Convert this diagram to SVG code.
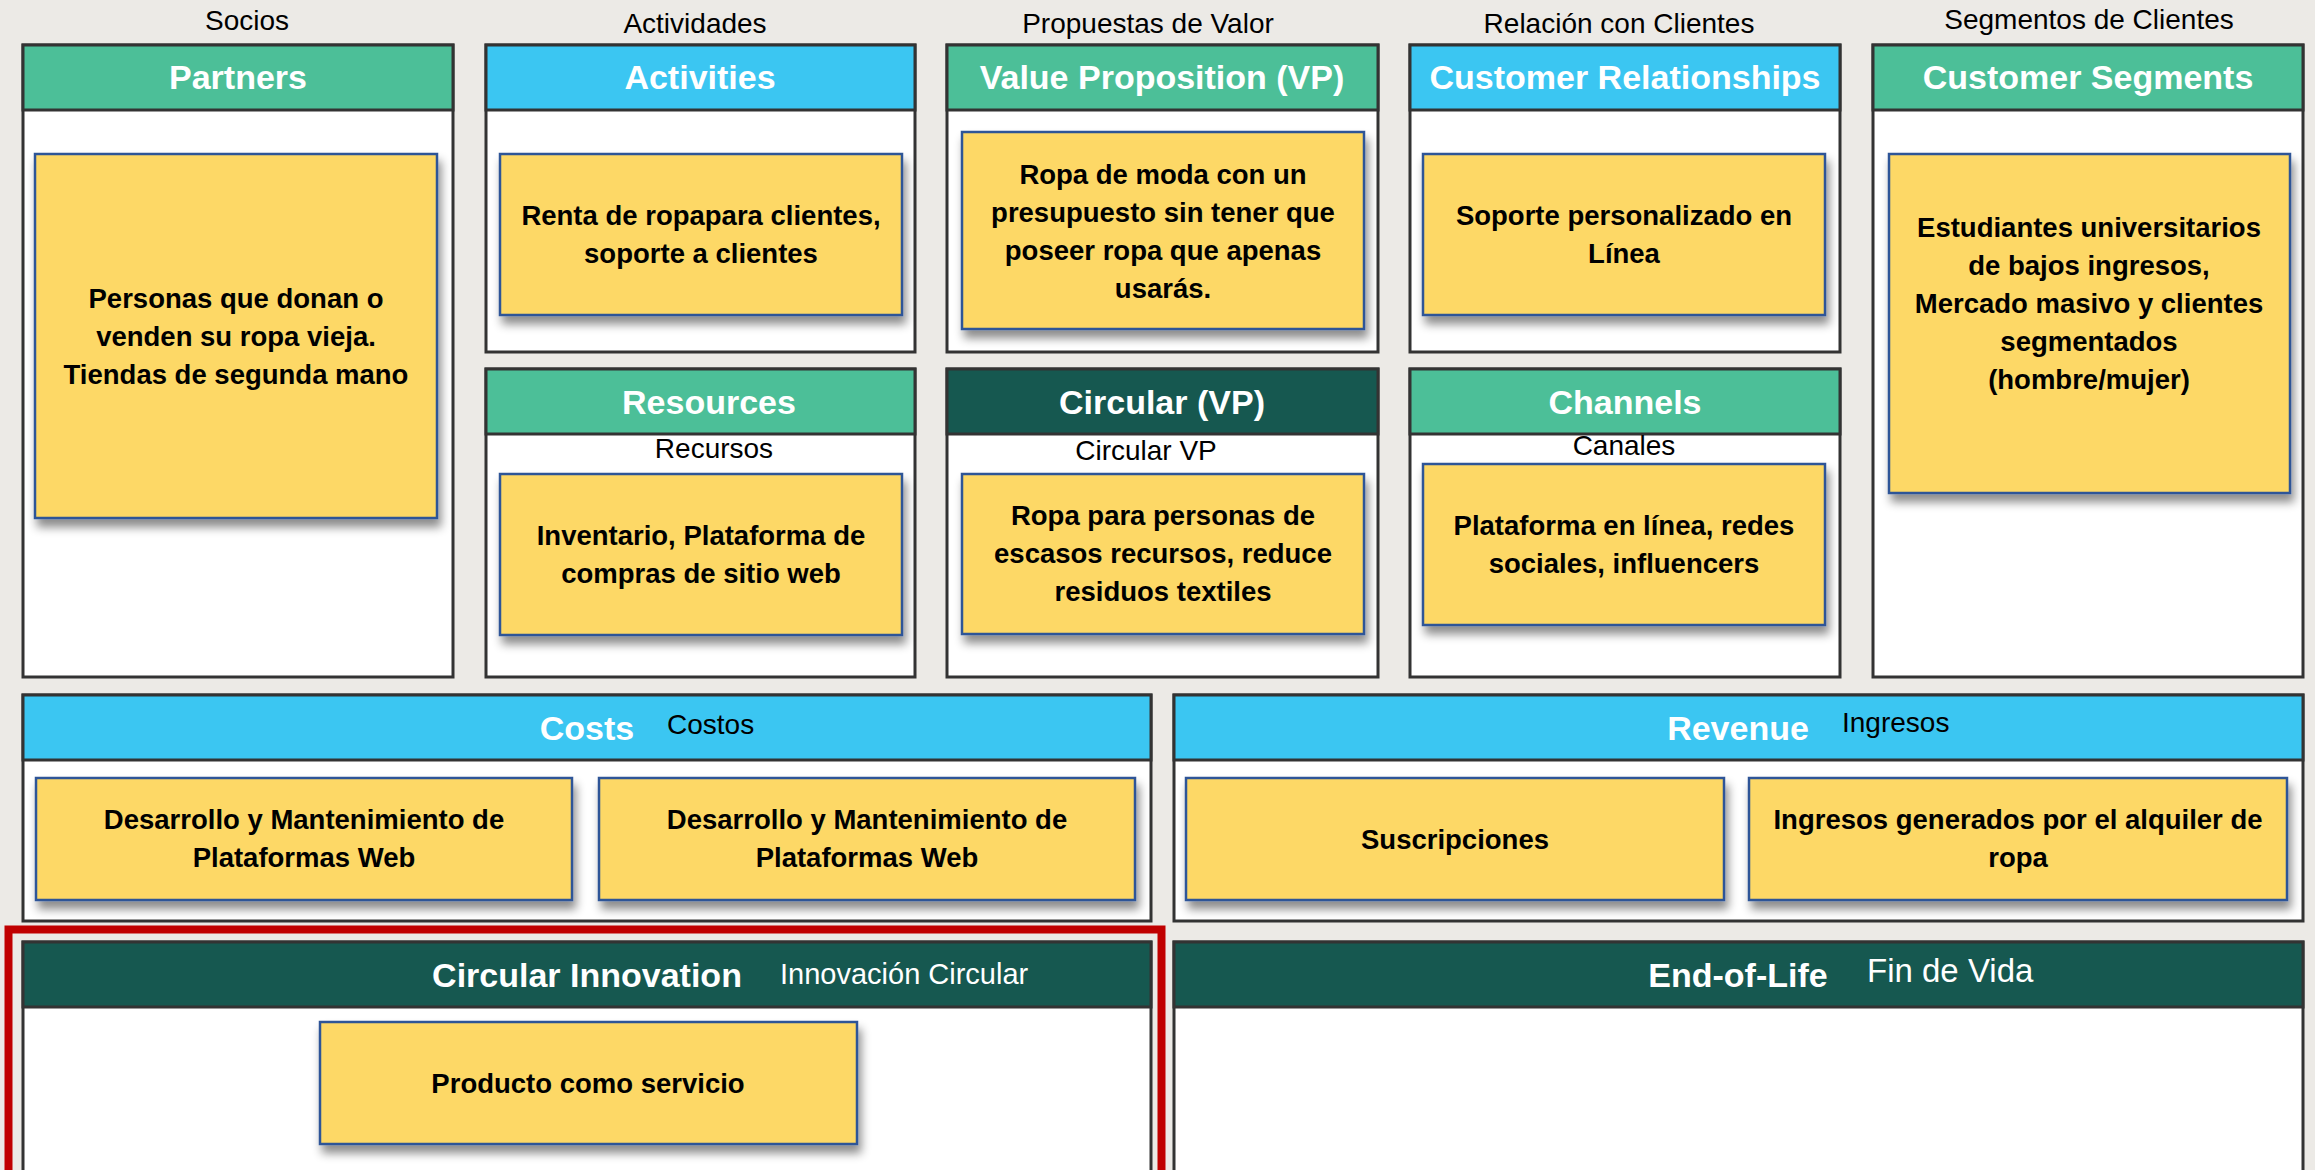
<svg xmlns="http://www.w3.org/2000/svg" width="2315" height="1170" viewBox="0 0 2315 1170">
<defs>
<style>
.panel{fill:#ffffff;stroke:#333333;stroke-width:3}
.hg{fill:#4CBF98;stroke:#333333;stroke-width:3}
.hb{fill:#3BC6F2;stroke:#333333;stroke-width:3}
.hd{fill:#165850;stroke:#333333;stroke-width:3}
.note{fill:#FDD866;stroke:#2F5597;stroke-width:2.5;filter:url(#sh)}
.title{font-family:"Liberation Sans",Arial,sans-serif;font-weight:bold;font-size:34px;fill:#ffffff;text-anchor:middle}
.lbl{font-family:"Liberation Sans",Arial,sans-serif;font-size:28px;fill:#000000}
.mid{text-anchor:middle}
.nt{font-family:"Liberation Sans",Arial,sans-serif;font-weight:bold;font-size:27.5px;fill:#000000;text-anchor:middle}
.wl{font-family:"Liberation Sans",Arial,sans-serif;fill:#ffffff}
</style>
<filter id="sh" x="-10%" y="-10%" width="125%" height="135%">
<feDropShadow dx="3" dy="8" stdDeviation="5" flood-color="#000000" flood-opacity="0.45"/>
</filter>
</defs>
<rect x="0" y="0" width="2315" height="1170" fill="#ECEAE6"/>

<g id="top-labels">
<text class="lbl mid" x="247" y="30">Socios</text>
<text class="lbl mid" x="695" y="33">Actividades</text>
<text class="lbl mid" x="1148" y="33">Propuestas de Valor</text>
<text class="lbl mid" x="1619" y="33">Relación con Clientes</text>
<text class="lbl mid" x="2089" y="29">Segmentos de Clientes</text>
</g>

<g id="partners">
<rect class="panel" x="23" y="45" width="430" height="632"/>
<rect class="hg" x="23" y="45" width="430" height="65"/>
<text class="title" x="238" y="89">Partners</text>
<rect class="note" x="35" y="154" width="402" height="364"/>
<text class="nt" x="236" y="308">Personas que donan o</text>
<text class="nt" x="236" y="346">venden su ropa vieja.</text>
<text class="nt" x="236" y="384">Tiendas de segunda mano</text>
</g>

<g id="activities">
<rect class="panel" x="486" y="45" width="429" height="307"/>
<rect class="hb" x="486" y="45" width="429" height="65"/>
<text class="title" x="700" y="89">Activities</text>
<rect class="note" x="500" y="154" width="402" height="161"/>
<text class="nt" x="701" y="225">Renta de ropapara clientes,</text>
<text class="nt" x="701" y="263">soporte a clientes</text>
</g>

<g id="resources">
<rect class="panel" x="486" y="369" width="429" height="308"/>
<rect class="hg" x="486" y="369" width="429" height="65"/>
<text class="title" x="709" y="414">Resources</text>
<text class="lbl mid" x="714" y="458" font-size="27">Recursos</text>
<rect class="note" x="500" y="474" width="402" height="161"/>
<text class="nt" x="701" y="545">Inventario, Plataforma de</text>
<text class="nt" x="701" y="583">compras de sitio web</text>
</g>

<g id="value-proposition">
<rect class="panel" x="947" y="45" width="431" height="307"/>
<rect class="hg" x="947" y="45" width="431" height="65"/>
<text class="title" x="1162" y="89">Value Proposition (VP)</text>
<rect class="note" x="962" y="132" width="402" height="197"/>
<text class="nt" x="1163" y="184">Ropa de moda con un</text>
<text class="nt" x="1163" y="222">presupuesto sin tener que</text>
<text class="nt" x="1163" y="260">poseer ropa que apenas</text>
<text class="nt" x="1163" y="298">usarás.</text>
</g>

<g id="circular-vp">
<rect class="panel" x="947" y="369" width="431" height="308"/>
<rect class="hd" x="947" y="369" width="431" height="65"/>
<text class="title" x="1162" y="414">Circular (VP)</text>
<text class="lbl mid" x="1146" y="460" font-size="27">Circular VP</text>
<rect class="note" x="962" y="474" width="402" height="160"/>
<text class="nt" x="1163" y="525">Ropa para personas de</text>
<text class="nt" x="1163" y="563">escasos recursos, reduce</text>
<text class="nt" x="1163" y="601">residuos textiles</text>
</g>

<g id="customer-relationships">
<rect class="panel" x="1410" y="45" width="430" height="307"/>
<rect class="hb" x="1410" y="45" width="430" height="65"/>
<text class="title" x="1625" y="89">Customer Relationships</text>
<rect class="note" x="1423" y="154" width="402" height="161"/>
<text class="nt" x="1624" y="225">Soporte personalizado en</text>
<text class="nt" x="1624" y="263">Línea</text>
</g>

<g id="channels">
<rect class="panel" x="1410" y="369" width="430" height="308"/>
<rect class="hg" x="1410" y="369" width="430" height="65"/>
<text class="title" x="1625" y="414">Channels</text>
<text class="lbl mid" x="1624" y="455" font-size="27">Canales</text>
<rect class="note" x="1423" y="464" width="402" height="161"/>
<text class="nt" x="1624" y="535">Plataforma en línea, redes</text>
<text class="nt" x="1624" y="573">sociales, influencers</text>
</g>

<g id="customer-segments">
<rect class="panel" x="1873" y="45" width="430" height="632"/>
<rect class="hg" x="1873" y="45" width="430" height="65"/>
<text class="title" x="2088" y="89">Customer Segments</text>
<rect class="note" x="1889" y="154" width="401" height="339"/>
<text class="nt" x="2089" y="237">Estudiantes universitarios</text>
<text class="nt" x="2089" y="275">de bajos ingresos,</text>
<text class="nt" x="2089" y="313">Mercado masivo y clientes</text>
<text class="nt" x="2089" y="351">segmentados</text>
<text class="nt" x="2089" y="389">(hombre/mujer)</text>
</g>

<g id="costs">
<rect class="panel" x="23" y="695" width="1128" height="226"/>
<rect class="hb" x="23" y="695" width="1128" height="65"/>
<text class="title" x="587" y="740">Costs</text>
<text class="lbl" x="667" y="734" font-size="27">Costos</text>
<rect class="note" x="36" y="778" width="536" height="122"/>
<text class="nt" x="304" y="829">Desarrollo y Mantenimiento de</text>
<text class="nt" x="304" y="867">Plataformas Web</text>
<rect class="note" x="599" y="778" width="536" height="122"/>
<text class="nt" x="867" y="829">Desarrollo y Mantenimiento de</text>
<text class="nt" x="867" y="867">Plataformas Web</text>
</g>

<g id="revenue">
<rect class="panel" x="1174" y="695" width="1129" height="226"/>
<rect class="hb" x="1174" y="695" width="1129" height="65"/>
<text class="title" x="1738" y="740">Revenue</text>
<text class="lbl" x="1842" y="732">Ingresos</text>
<rect class="note" x="1186" y="778" width="538" height="122"/>
<text class="nt" x="1455" y="849">Suscripciones</text>
<rect class="note" x="1749" y="778" width="538" height="122"/>
<text class="nt" x="2018" y="829">Ingresos generados por el alquiler de</text>
<text class="nt" x="2018" y="867">ropa</text>
</g>

<g id="circular-innovation">
<rect x="8.5" y="929.5" width="1153" height="260" fill="none" stroke="#C00000" stroke-width="8"/>
<rect class="panel" x="23" y="942" width="1128" height="240"/>
<rect class="hd" x="23" y="942" width="1128" height="65"/>
<text class="title" x="587" y="987">Circular Innovation</text>
<text class="wl" x="780" y="984" font-size="29">Innovación Circular</text>
<rect class="note" x="320" y="1022" width="537" height="122"/>
<text class="nt" x="588" y="1093">Producto como servicio</text>
</g>

<g id="end-of-life">
<rect class="panel" x="1174" y="942" width="1129" height="240"/>
<rect class="hd" x="1174" y="942" width="1129" height="65"/>
<text class="title" x="1738" y="987">End-of-Life</text>
<text class="wl" x="1867" y="982" font-size="33">Fin de Vida</text>
</g>

<g id="connectors"></g>
</svg>
